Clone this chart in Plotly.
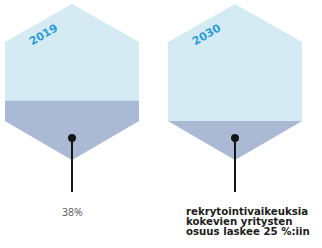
import plotly.graph_objects as go

years = ["2019", "2030"]
shares = [38, 25]
caption_left = ["38%"]
caption_right = ["rekrytointivaikeuksia", "kokevien yritysten", "osuus laskee 25 %:iin"]

# hexagon shape (normalised units: bottom vertex y=0, top vertex y=1)
HW = 0.411
Y_RECT_BOTTOM = 0.25
Y_SHOULDER = 0.756
LIGHT = "#d5ebf3"
FILL = "#abbad4"

fig = go.Figure()

for i, (yr, s) in enumerate(zip(years, shares)):
    hx = [i, i + HW, i + HW, i, i - HW, i - HW, i]
    hy = [0, Y_RECT_BOTTOM, Y_SHOULDER, 1, Y_SHOULDER, Y_RECT_BOTTOM, 0]
    fig.add_trace(go.Scatter(x=hx, y=hy, fill="toself", fillcolor=LIGHT,
                             mode="lines", line=dict(width=0), hoverinfo="skip",
                             showlegend=False))
    f = s / 100
    if f <= Y_RECT_BOTTOM:
        w = HW * f / Y_RECT_BOTTOM
        fx = [i, i + w, i - w, i]
        fy = [0, f, f, 0]
    else:
        fx = [i, i + HW, i + HW, i - HW, i - HW, i]
        fy = [0, Y_RECT_BOTTOM, f, f, Y_RECT_BOTTOM, 0]
    fig.add_trace(go.Scatter(x=fx, y=fy, fill="toself", fillcolor=FILL,
                             mode="lines", line=dict(width=0), hoverinfo="skip",
                             showlegend=False))
    # stem
    fig.add_trace(go.Scatter(x=[i, i], y=[0.141, -0.205], mode="lines",
                             line=dict(color="#151515", width=2),
                             hoverinfo="skip", showlegend=False))
    fig.add_trace(go.Scatter(x=[i], y=[0.141], mode="markers",
                             marker=dict(color="#151515", size=8),
                             hoverinfo="skip", showlegend=False))
    # year label along upper-left slope
    fig.add_annotation(x=i - 0.172, y=0.806, text="<b>%s</b>" % yr, showarrow=False,
                       textangle=-30, font=dict(family="DejaVu Sans", size=11, color="#2b9bd7"))

# captions
fig.add_annotation(x=0, y=-0.335, text=caption_left[0], showarrow=False,
                   xanchor="center", yanchor="middle",
                   font=dict(family="Open Sans", size=10.5, color="#555555"))
for k, line in enumerate(caption_right):
    fig.add_annotation(x=0.687, y=-0.33 - k * 0.064, text="<b>%s</b>" % line,
                       showarrow=False, xanchor="left", yanchor="middle",
                       font=dict(family="DejaVu Sans", size=10.2, color="#1c1c1c"))

fig.update_layout(
    width=322, height=248,
    margin=dict(l=0, r=0, t=0, b=0),
    paper_bgcolor="white", plot_bgcolor="white",
    xaxis=dict(range=[-0.4417, 1.5337], visible=False, fixedrange=True),
    yaxis=dict(range=[-0.5641, 1.0256], visible=False, fixedrange=True),
)

fig.write_html("out.html", post_script="document.body.style.margin='0';",
               config={"displayModeBar": False})
